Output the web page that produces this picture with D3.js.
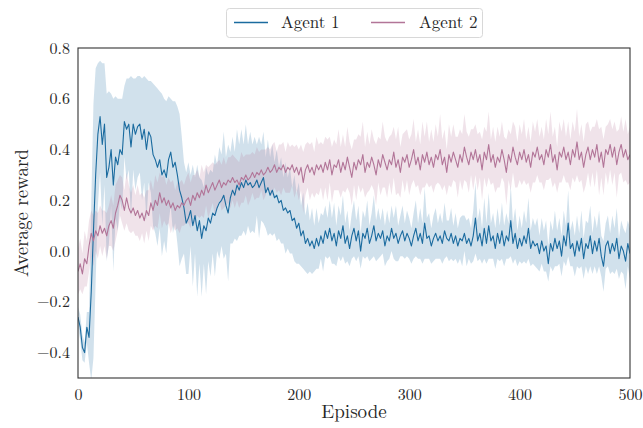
<!DOCTYPE html>
<html><head><meta charset="utf-8">
<script src="https://cdn.jsdelivr.net/npm/d3@7"></script>
<style>
html,body{margin:0;padding:0;background:#fff;}
text{font-family:"Latin Modern Roman","CMU Serif","Liberation Serif","DejaVu Serif",serif;fill:#262626;}
</style></head>
<body>
<svg id="chart" width="643" height="428"></svg>
<script>
// Episodes sampled every 2 steps: 0,2,...,500
const episodeStep = 2;
const xTicks = [0, 100, 200, 300, 400, 500];
const yTicks = [-0.4, -0.2, 0.0, 0.2, 0.4, 0.6, 0.8];
const seriesNames = ["Agent 1", "Agent 2"];

const agent1Mean = [
-0.26,-0.30,-0.38,-0.40,-0.30,-0.34,-0.16,0.08,0.30,0.46,
0.53,0.42,0.50,0.29,0.33,0.40,0.26,0.37,0.34,0.40,
0.38,0.51,0.48,0.50,0.41,0.50,0.46,0.49,0.50,0.44,
0.48,0.40,0.47,0.45,0.38,0.36,0.33,0.36,0.30,0.32,
0.29,0.36,0.39,0.33,0.35,0.30,0.24,0.21,0.17,0.11,
0.13,0.16,0.10,0.14,0.08,0.12,0.05,0.10,0.08,0.13,
0.11,0.15,0.14,0.17,0.19,0.20,0.22,0.18,0.15,0.21,
0.24,0.22,0.26,0.24,0.27,0.25,0.28,0.26,0.27,0.25,
0.26,0.28,0.25,0.27,0.29,0.23,0.25,0.22,0.24,0.21,
0.22,0.19,0.20,0.16,0.17,0.15,0.16,0.12,0.13,0.09,
0.11,0.06,0.08,0.03,0.05,0.02,0.04,0.01,0.05,0.02,
0.06,0.03,0.08,0.05,0.09,0.04,0.07,0.02,0.08,0.05,
0.10,0.03,0.06,0.01,0.06,0.09,0.04,0.08,0.00,0.07,
0.05,0.09,0.03,0.06,0.10,0.04,0.07,0.05,0.08,0.02,
0.06,0.04,0.09,0.05,0.07,0.03,0.06,0.08,0.04,0.07,
0.05,0.02,0.06,0.09,0.04,0.07,0.03,0.11,0.05,0.06,
0.02,0.05,0.07,0.04,0.06,0.03,0.08,0.05,0.04,0.07,
0.03,0.06,0.02,0.05,0.04,0.07,0.03,0.05,0.02,0.06,
0.13,0.04,0.07,0.02,0.09,0.03,0.10,0.04,0.06,0.01,
0.07,0.03,0.08,0.02,0.06,0.04,0.12,0.03,0.07,0.01,
0.05,0.02,0.06,0.03,0.09,0.01,0.04,0.02,0.03,-0.01,
0.04,0.00,0.02,-0.05,0.03,0.00,0.05,0.01,0.04,-0.02,
0.06,0.02,0.11,0.01,0.03,-0.02,0.04,0.00,0.05,-0.03,
0.03,0.01,0.06,-0.01,0.04,0.00,0.05,-0.02,-0.06,0.02,
0.04,-0.01,0.03,0.00,0.05,-0.03,0.02,0.00,-0.04,0.03,
-0.01];

const agent1Spread = [
0.04,0.05,0.05,0.04,0.06,0.10,0.35,0.50,0.42,0.28,
0.22,0.32,0.24,0.33,0.30,0.22,0.34,0.24,0.26,0.20,
0.22,0.14,0.20,0.18,0.28,0.18,0.22,0.20,0.19,0.24,
0.21,0.28,0.20,0.22,0.28,0.29,0.31,0.27,0.32,0.28,
0.30,0.25,0.21,0.26,0.24,0.27,0.30,0.24,0.18,0.20,
0.22,0.14,0.24,0.15,0.26,0.17,0.23,0.15,0.25,0.17,
0.21,0.16,0.24,0.17,0.22,0.18,0.25,0.19,0.27,0.18,
0.21,0.17,0.22,0.18,0.21,0.17,0.22,0.16,0.20,0.17,
0.19,0.14,0.20,0.15,0.18,0.14,0.19,0.15,0.18,0.14,
0.18,0.14,0.17,0.13,0.18,0.14,0.17,0.13,0.17,0.14,
0.16,0.12,0.15,0.11,0.14,0.10,0.13,0.09,0.12,0.09,
0.09,0.11,0.10,0.08,0.11,0.09,0.12,0.08,0.10,0.09,
0.12,0.08,0.10,0.07,0.09,0.11,0.08,0.10,0.07,0.09,
0.08,0.11,0.07,0.09,0.12,0.08,0.10,0.07,0.09,0.08,
0.10,0.07,0.09,0.08,0.11,0.07,0.08,0.10,0.07,0.09,
0.08,0.07,0.09,0.11,0.07,0.10,0.08,0.14,0.08,0.09,
0.07,0.09,0.10,0.07,0.09,0.08,0.11,0.07,0.08,0.10,
0.07,0.09,0.07,0.08,0.10,0.07,0.09,0.08,0.07,0.10,
0.14,0.08,0.10,0.07,0.12,0.08,0.13,0.07,0.09,0.08,
0.10,0.07,0.11,0.08,0.09,0.07,0.14,0.08,0.10,0.07,
0.09,0.07,0.10,0.08,0.12,0.07,0.09,0.08,0.10,0.07,
0.09,0.08,0.10,0.07,0.09,0.08,0.11,0.07,0.09,0.08,
0.10,0.08,0.13,0.07,0.09,0.08,0.10,0.07,0.11,0.08,
0.09,0.10,0.12,0.08,0.10,0.09,0.11,0.08,0.10,0.09,
0.10,0.08,0.11,0.09,0.12,0.08,0.10,0.09,0.11,0.09,
0.10];

const agent2Mean = [
-0.08,-0.05,-0.09,-0.03,-0.05,0.02,0.07,0.04,0.08,0.06,
0.10,0.07,0.09,0.06,0.10,0.12,0.09,0.15,0.18,0.22,
0.20,0.16,0.21,0.17,0.15,0.17,0.14,0.16,0.13,0.15,
0.12,0.16,0.14,0.19,0.16,0.20,0.18,0.23,0.19,0.21,
0.18,0.20,0.17,0.19,0.16,0.18,0.17,0.19,0.18,0.20,
0.21,0.18,0.22,0.20,0.23,0.21,0.24,0.22,0.26,0.23,
0.25,0.27,0.24,0.26,0.28,0.25,0.27,0.26,0.28,0.27,
0.29,0.27,0.28,0.26,0.29,0.28,0.30,0.28,0.29,0.31,
0.29,0.31,0.30,0.32,0.30,0.31,0.33,0.31,0.32,0.34,
0.31,0.33,0.32,0.34,0.31,0.33,0.32,0.34,0.31,0.33,
0.30,0.33,0.27,0.32,0.34,0.31,0.33,0.30,0.34,0.32,
0.34,0.31,0.35,0.32,0.36,0.30,0.34,0.33,0.36,0.31,
0.35,0.32,0.37,0.33,0.29,0.35,0.32,0.36,0.34,0.38,
0.31,0.35,0.33,0.37,0.34,0.30,0.36,0.33,0.38,0.35,
0.32,0.36,0.34,0.39,0.33,0.36,0.31,0.37,0.35,0.38,
0.33,0.36,0.40,0.34,0.37,0.32,0.38,0.35,0.39,0.34,
0.37,0.33,0.38,0.36,0.40,0.34,0.37,0.31,0.38,0.35,
0.39,0.36,0.33,0.38,0.35,0.41,0.37,0.34,0.39,0.36,
0.40,0.35,0.38,0.32,0.39,0.36,0.42,0.35,0.38,0.33,
0.37,0.35,0.40,0.36,0.31,0.38,0.35,0.41,0.37,0.34,
0.39,0.36,0.40,0.35,0.38,0.33,0.39,0.37,0.41,0.36,
0.38,0.34,0.40,0.37,0.42,0.35,0.38,0.32,0.39,0.37,
0.41,0.36,0.39,0.34,0.40,0.37,0.43,0.36,0.39,0.33,
0.38,0.41,0.36,0.40,0.37,0.42,0.35,0.39,0.33,0.40,
0.38,0.42,0.37,0.41,0.34,0.39,0.42,0.37,0.40,0.36,
0.38];

const agent2Spread = [
0.09,0.10,0.08,0.11,0.09,0.10,0.09,0.10,0.08,0.09,
0.08,0.09,0.07,0.09,0.08,0.10,0.09,0.11,0.10,0.08,
0.09,0.08,0.10,0.09,0.08,0.09,0.08,0.10,0.09,0.08,
0.09,0.08,0.10,0.09,0.08,0.10,0.09,0.08,0.10,0.09,
0.08,0.09,0.10,0.09,0.08,0.09,0.10,0.09,0.08,0.09,
0.10,0.09,0.08,0.10,0.09,0.08,0.10,0.09,0.08,0.10,
0.09,0.08,0.10,0.09,0.08,0.09,0.10,0.08,0.09,0.10,
0.09,0.10,0.08,0.09,0.10,0.09,0.08,0.10,0.09,0.08,
0.09,0.10,0.09,0.08,0.10,0.09,0.08,0.09,0.10,0.09,
0.08,0.09,0.10,0.09,0.08,0.10,0.09,0.08,0.10,0.09,
0.10,0.09,0.12,0.10,0.09,0.11,0.10,0.09,0.11,0.10,
0.09,0.11,0.10,0.12,0.09,0.11,0.10,0.09,0.12,0.10,
0.11,0.09,0.12,0.10,0.11,0.09,0.12,0.10,0.11,0.13,
0.10,0.12,0.09,0.11,0.10,0.12,0.09,0.11,0.13,0.10,
0.11,0.09,0.12,0.10,0.11,0.13,0.10,0.09,0.12,0.10,
0.11,0.10,0.12,0.09,0.11,0.10,0.13,0.10,0.12,0.09,
0.11,0.10,0.12,0.09,0.14,0.10,0.11,0.09,0.12,0.10,
0.11,0.09,0.12,0.10,0.11,0.13,0.10,0.11,0.09,0.12,
0.10,0.11,0.09,0.12,0.10,0.11,0.13,0.09,0.11,0.10,
0.12,0.10,0.11,0.09,0.13,0.10,0.11,0.10,0.12,0.09,
0.11,0.10,0.12,0.09,0.11,0.10,0.12,0.10,0.11,0.09,
0.11,0.10,0.12,0.09,0.13,0.10,0.11,0.09,0.12,0.10,
0.11,0.09,0.12,0.10,0.11,0.10,0.13,0.09,0.11,0.10,
0.12,0.10,0.11,0.09,0.12,0.10,0.13,0.10,0.11,0.09,
0.12,0.10,0.11,0.10,0.13,0.09,0.11,0.10,0.12,0.10,
0.11];

const seriesColors = ["#1b6b9f", "#b27598"];

const svg = d3.select("#chart");
const W = 643, H = 428;
const margin = {left: 78, right: 13, top: 48, bottom: 50};
const x = d3.scaleLinear().domain([0, 500]).range([margin.left, W - margin.right]);
const y = d3.scaleLinear().domain([-0.5, 0.8]).range([H - margin.bottom, margin.top]);

const series = [
  {name: seriesNames[0], mean: agent1Mean, spread: agent1Spread, color: seriesColors[0]},
  {name: seriesNames[1], mean: agent2Mean, spread: agent2Spread, color: seriesColors[1]}
].map(s => ({...s, pts: s.mean.map((m, i) => ({ep: i * episodeStep, m, lo: m - s.spread[i], hi: m + s.spread[i]}))}));

svg.append("defs").append("clipPath").attr("id", "clip")
  .append("rect").attr("x", x(0)).attr("y", y(0.8)).attr("width", x(500) - x(0)).attr("height", y(-0.5) - y(0.8));

const plot = svg.append("g").attr("clip-path", "url(#clip)");
const area = d3.area().x(d => x(d.ep)).y0(d => y(d.lo)).y1(d => y(d.hi));
const line = d3.line().x(d => x(d.ep)).y(d => y(d.m));

series.forEach(s => {
  plot.append("path").datum(s.pts).attr("d", area).attr("fill", s.color).attr("fill-opacity", 0.2).attr("stroke", "none");
});
series.forEach(s => {
  plot.append("path").datum(s.pts).attr("d", line).attr("fill", "none").attr("stroke", s.color).attr("stroke-width", 1.1).attr("stroke-linejoin", "round");
});

// axes
const fmt = d3.format(".1f");
const xAxis = svg.append("g").attr("transform", `translate(0,${y(-0.5)})`)
  .call(d3.axisBottom(x).tickValues(xTicks).tickSize(0).tickPadding(11).tickFormat(d3.format("d")));
const yAxis = svg.append("g").attr("transform", `translate(${x(0)},0)`)
  .call(d3.axisLeft(y).tickValues(yTicks).tickSize(0).tickPadding(8).tickFormat(fmt));
[xAxis, yAxis].forEach(a => {
  a.select(".domain").remove();
  a.selectAll("text").attr("font-size", 16).attr("fill", "#262626")
   .style("font-family", '"Latin Modern Roman","CMU Serif","Liberation Serif","DejaVu Serif",serif');
});

// frame
svg.append("rect").attr("x", x(0)).attr("y", y(0.8)).attr("width", x(500) - x(0)).attr("height", y(-0.5) - y(0.8))
  .attr("fill", "none").attr("stroke", "#333").attr("stroke-width", 1.1);

// labels
svg.append("text").attr("x", (x(0) + x(500)) / 2).attr("y", 418).attr("text-anchor", "middle").attr("font-size", 19).text("Episode");
svg.append("text").attr("transform", `translate(28,${(y(0.8) + y(-0.5)) / 2}) rotate(-90)`).attr("text-anchor", "middle").attr("font-size", 19).text("Average reward");

// legend
const lg = svg.append("g");
lg.append("rect").attr("x", 226.5).attr("y", 8.5).attr("width", 256).attr("height", 29).attr("rx", 3)
  .attr("fill", "#fff").attr("stroke", "#d8d8d8").attr("stroke-width", 1);
const legendItems = [{xl: 234, xt: 281}, {xl: 371, xt: 419}];
series.forEach((s, i) => {
  lg.append("line").attr("x1", legendItems[i].xl).attr("x2", legendItems[i].xl + 34).attr("y1", 22.5).attr("y2", 22.5)
    .attr("stroke", s.color).attr("stroke-width", 1.3);
  lg.append("text").attr("x", legendItems[i].xt).attr("y", 28).attr("font-size", 17).text(s.name);
});
</script>
</body></html>
